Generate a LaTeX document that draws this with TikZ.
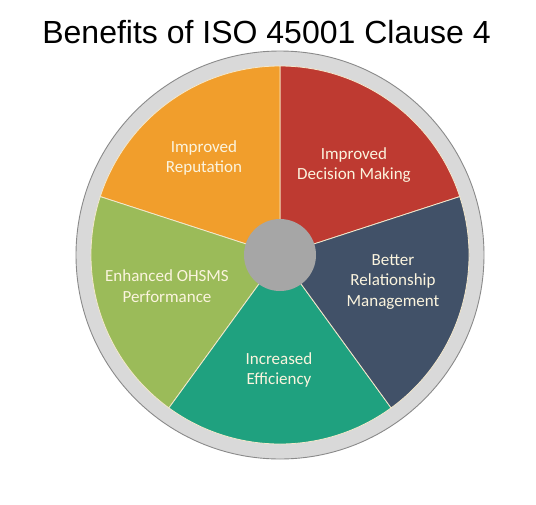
\documentclass[tikz,border=0pt]{standalone}
\usepackage{fontspec}
\setmainfont{Carlito}
\newfontfamily\titlefont{Liberation Sans}
\definecolor{cRed}{HTML}{BE3A31}
\definecolor{cOrange}{HTML}{F19E2C}
\definecolor{cGreen}{HTML}{9BBB59}
\definecolor{cTeal}{HTML}{1FA17F}
\definecolor{cSlate}{HTML}{415168}
\definecolor{cRing}{HTML}{D9D9D9}
\definecolor{cRingEdge}{HTML}{8A8A8A}
\definecolor{cHub}{HTML}{A6A6A6}
\definecolor{cSep}{HTML}{F4E8CC}
\definecolor{cText}{HTML}{FBF4DE}
\begin{document}
\begin{tikzpicture}[x=1pt,y=1pt,
  slice/.style={draw=cSep,line width=0.8pt},
  lbl/.style={text=cText,align=center,font=\fontsize{17}{20.5}\selectfont,inner sep=0pt}]
\useasboundingbox[fill=white] (0,0) rectangle (536,-504);
\coordinate (C) at (280,-255);
\node[anchor=base,inner sep=0pt,font=\titlefont\fontsize{32}{36}\selectfont] (title) at (266.5,-43) {Benefits of ISO 45001 Clause 4};
\draw[fill=cRing,draw=cRingEdge,line width=0.9pt] (C) circle[radius=204];
\fill[cRed,slice] (C) -- ++(18:189) arc[start angle=18,end angle=90,radius=189] -- cycle;
\fill[cOrange,slice] (C) -- ++(90:189) arc[start angle=90,end angle=162,radius=189] -- cycle;
\fill[cGreen,slice] (C) -- ++(162:189) arc[start angle=162,end angle=234,radius=189] -- cycle;
\fill[cTeal,slice] (C) -- ++(234:189) arc[start angle=234,end angle=306,radius=189] -- cycle;
\fill[cSlate,slice] (C) -- ++(306:189) arc[start angle=306,end angle=378,radius=189] -- cycle;
\node[circle,fill=cHub,minimum size=72pt,inner sep=0pt] (hub) at (C) {};
\node[lbl] (rep) at (204,-158) {Improved\\Reputation};
\node[lbl] (dec) at (354,-165) {Improved\\Decision Making};
\node[lbl] (rel) at (393,-282) {Better\\Relationship\\Management};
\node[lbl] (ohs) at (167,-286) {Enhanced OHSMS\\Performance};
\node[lbl] (eff) at (279,-370) {Increased\\Efficiency};
\end{tikzpicture}
\end{document}
